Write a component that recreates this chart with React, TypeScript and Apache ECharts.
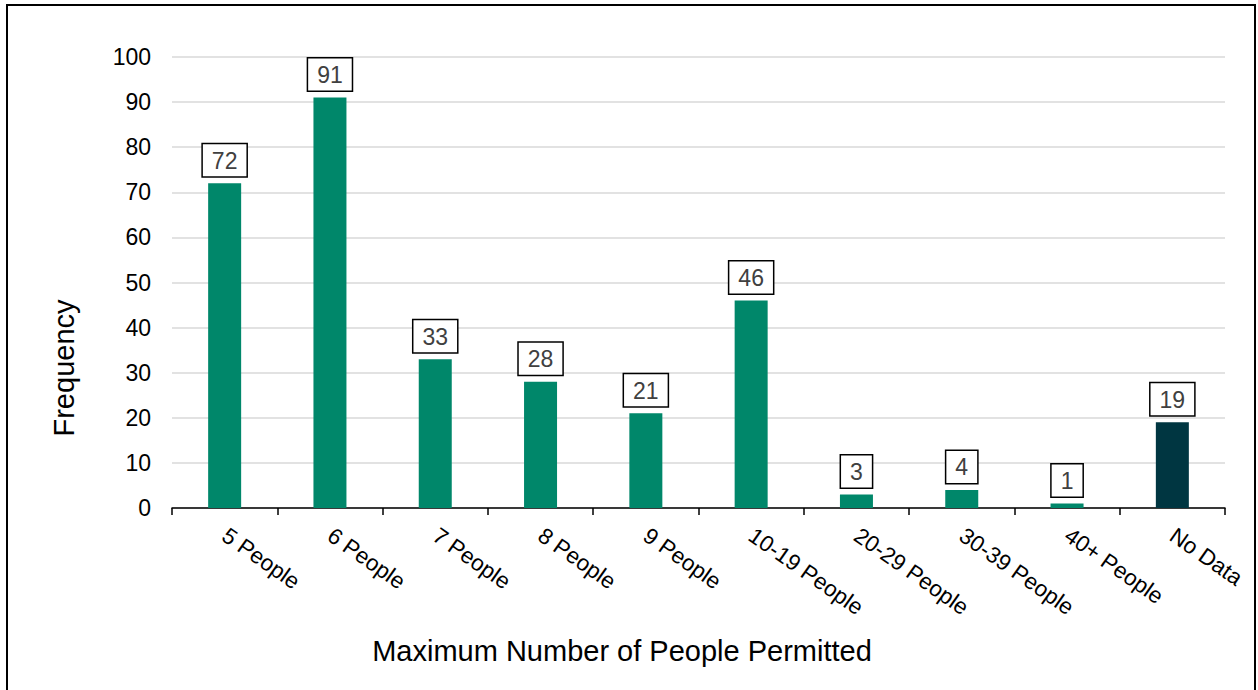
import React, { useEffect, useRef } from "react";
import * as echarts from "echarts";

const categories = ["5 People", "6 People", "7 People", "8 People", "9 People", "10-19 People", "20-29 People", "30-39 People", "40+ People", "No Data"];
const values = [72, 91, 33, 28, 21, 46, 3, 4, 1, 19];
const barColors = ["#00876A", "#00876A", "#00876A", "#00876A", "#00876A", "#00876A", "#00876A", "#00876A", "#00876A", "#003641"];
const xTitle = "Maximum Number of People Permitted";
const yTitle = "Frequency";

const FONT = "Liberation Sans, Arial, sans-serif";

export default function App() {
  const ref = useRef<HTMLDivElement>(null);
  useEffect(() => {
    if (!ref.current) return;
    const chart = echarts.init(ref.current, null, { renderer: "svg" });
    chart.setOption({
      animation: false,
      backgroundColor: "#ffffff",
      grid: { left: 172, right: 33, top: 57, bottom: 182 },
      xAxis: {
        type: "category",
        data: categories,
        axisLine: { lineStyle: { color: "#000", width: 1.5 } },
        axisTick: { show: true, length: 7, lineStyle: { color: "#000", width: 1.5 } },
        axisLabel: { interval: 0, rotate: -35, fontSize: 22.5, color: "#000", fontFamily: FONT, margin: 25 },
      },
      yAxis: {
        type: "value",
        min: 0,
        max: 100,
        interval: 10,
        axisLine: { show: false },
        axisTick: { show: false },
        axisLabel: { fontSize: 23, color: "#000", fontFamily: FONT, margin: 21 },
        splitLine: { lineStyle: { color: "#d9d9d9", width: 1.5 } },
      },
      series: [
        {
          type: "bar",
          barWidth: 33,
          data: values.map((v, i) => ({ value: v, itemStyle: { color: barColors[i] } })),
          label: {
            show: true,
            position: "top",
            distance: 7,
            fontSize: 23,
            fontFamily: FONT,
            color: "#404040",
            backgroundColor: "#fff",
            borderColor: "#000",
            borderWidth: 1.5,
            padding: [5, 9, 4, 9],
          },
        },
      ],
      graphic: [
        {
          type: "rect",
          shape: { x: 7, y: 5, width: 1248, height: 700 },
          style: { fill: "none", stroke: "#000", lineWidth: 2 },
          silent: true,
        },
        {
          type: "text",
          x: 622,
          y: 651,
          style: { text: xTitle, fontSize: 29, fontFamily: FONT, fill: "#000", align: "center", verticalAlign: "middle" },
        },
        {
          type: "text",
          x: 64,
          y: 368,
          rotation: Math.PI / 2,
          style: { text: yTitle, fontSize: 29, fontFamily: FONT, fill: "#000", align: "center", verticalAlign: "middle" },
        },
      ],
    });
    return () => chart.dispose();
  }, []);
  return <div ref={ref} style={{ position: "fixed", left: 0, top: 0, width: 1258, height: 690 }} />;
}
